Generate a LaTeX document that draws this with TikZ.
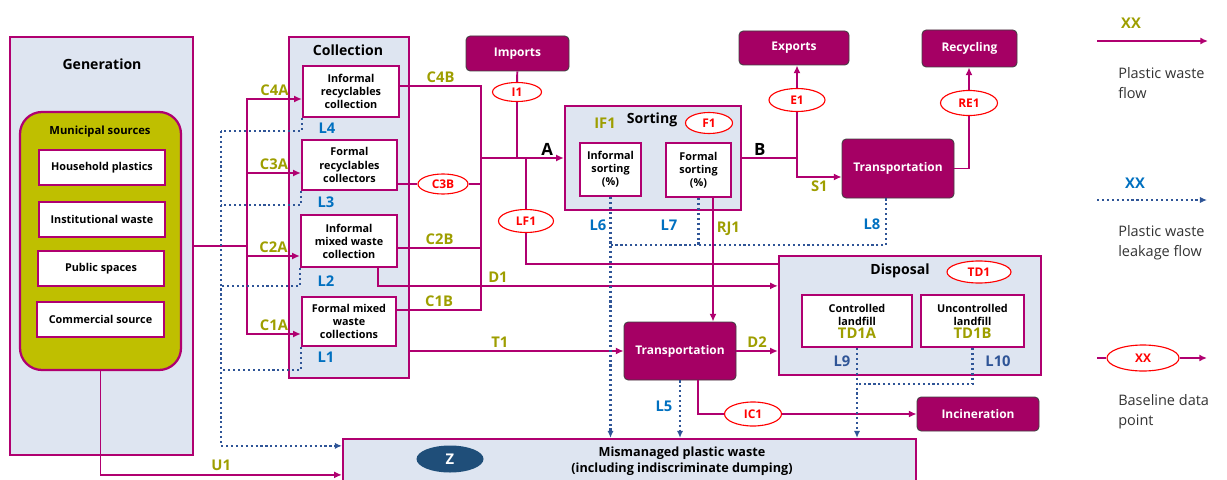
\documentclass[tikz,border=0pt]{standalone}
\usepackage{fontspec}
\setmainfont{Open Sans}
\usetikzlibrary{positioning,shapes,arrows.meta}
\definecolor{wastemag}{RGB}{176,0,112}
\definecolor{sinkfill}{RGB}{165,0,100}
\definecolor{paleblue}{RGB}{222,229,241}
\definecolor{olivefill}{RGB}{191,191,0}
\definecolor{olivetext}{RGB}{158,158,0}
\definecolor{leakblue}{RGB}{47,85,151}
\definecolor{lablblue}{RGB}{0,112,192}
\definecolor{navyz}{RGB}{31,78,121}
\def\px{0.025cm}
\newcommand{\boxfont}{\fontsize{7.7}{9.3}\selectfont\bfseries}
\newcommand{\labfont}{\fontsize{10.5}{12}\selectfont\bfseries}
\newcommand{\sinkfont}{\fontsize{8.5}{10}\selectfont\bfseries}
\newcommand{\ptfont}{\fontsize{8.5}{10}\selectfont\bfseries}
\tikzstyle{stage}=[draw=wastemag,fill=paleblue,line width=1.6pt]
\tikzstyle{item}=[draw=wastemag,fill=white,line width=1.6pt,align=center,font=\boxfont,inner sep=1pt]
\tikzstyle{sink}=[draw=black!75,fill=sinkfill,rounded corners=3pt,text=white,font=\sinkfont,line width=0.6pt]
\tikzstyle{datapt}=[draw=red,fill=white,ellipse,text=red,font=\ptfont,inner sep=0pt,line width=0.8pt]
\tikzstyle{title}=[font=\fontsize{10}{12}\selectfont\bfseries,inner sep=1pt]
\tikzstyle{flowlab}=[text=olivetext,font=\labfont,inner sep=2pt]
\tikzstyle{leaklab}=[text=lablblue,font=\labfont,inner sep=1pt]
\tikzstyle{legtext}=[font=\fontsize{10.3}{14.5}\selectfont,text=black!80,align=left,anchor=west,inner sep=0pt]
\tikzstyle{flowline}=[draw=wastemag,line width=1.4pt]
\tikzstyle{flow}=[flowline,-{Latex[length=5.5pt,width=5pt]}]
\tikzstyle{leakline}=[draw=leakblue,line width=1.5pt,dotted]
\tikzstyle{leak}=[leakline,-{Latex[length=5pt,width=4.5pt]}]
\tikzset{wh/.style 2 args={minimum width=#1*\px,minimum height=#2*\px}}

\begin{document}
\begin{tikzpicture}[x=0.025cm,y=-0.025cm]
  \useasboundingbox (0,0) rectangle (1227,479);
  \clip (0,0) rectangle (1227,479);

  % generation
  \node[stage,wh={183}{418}] (gen) at (101.5,246) {};
  \node[title] (genT) at (102,64) {Generation};
  \node[draw=wastemag,fill=olivefill,line width=1.6pt,rounded corners=0.55cm,wh={161}{258}] (muni) at (100.5,241) {};
  \node[font=\fontsize{8}{9}\selectfont\bfseries] (muniT) at (100,132) {Municipal sources};
  \node[item,wh={126}{35}] (hh) at (102,167.5) {Household plastics};
  \node[item,wh={126}{35}] (inst) at (102,219.5) {Institutional waste};
  \node[item,wh={126}{35}] (pub) at (101,268.5) {Public spaces};
  \node[item,wh={127}{35}] (com) at (100.5,319.5) {Commercial source};

  % collection
  \node[stage,wh={120}{341}] (coll) at (349,207.5) {};
  \node[title] (collT) at (348,50) {Collection};
  \node[item,wh={96}{51}] (irc) at (351,91.5) {Informal\\recyclables\\collection};
  \node[item,wh={95}{50}] (frc) at (349.5,165) {Formal\\recyclables\\collectors};
  \node[item,wh={96}{52}] (imw) at (349,241) {Informal\\mixed waste\\collection};
  \node[item,wh={94}{49}] (fmw) at (349,321.5) {Formal mixed\\waste\\collections};

  % sorting
  \node[stage,wh={176}{104}] (sort) at (653,158) {};
  \node[title] (sortT) at (652,120) {Sorting};
  \node[flowlab] (labIF1) at (605,123) {IF1};
  \node[datapt,wh={47}{21}] (f1) at (709,123) {F1};
  \node[item,wh={61}{53}] (isort) at (610.5,169.5) {Informal\\sorting\\(\%)};
  \node[item,wh={65}{54}] (fsort) at (698.5,170) {Formal\\sorting\\(\%)};

  % disposal
  \node[stage,wh={262}{119}] (disp) at (910,315.5) {};
  \node[title] (dispT) at (900,271) {Disposal};
  \node[datapt,wh={64}{22}] (td1) at (979,272) {TD1};
  \node[item,wh={110}{52}] (ctl) at (857,321) {Controlled\\landfill\\{\labfont\color{olivetext}TD1A}};
  \node[item,wh={103}{52}] (unctl) at (972.5,321) {Uncontrolled\\landfill\\{\labfont\color{olivetext}TD1B}};

  % end points
  \node[sink,wh={103}{35}] (imp) at (517.5,53.5) {Imports};
  \node[sink,wh={110}{34}] (exp) at (794,48) {Exports};
  \node[sink,wh={95}{37}] (recy) at (969.5,48.5) {Recycling};
  \node[sink,wh={112}{59}] (trA) at (898,168.5) {Transportation};
  \node[sink,wh={112}{58}] (trB) at (680,351) {Transportation};
  \node[sink,wh={122}{34}] (inc) at (978,414) {Incineration};
  \node[stage,wh={573}{50}] (mism) at (629.5,464) {};
  \node[font=\fontsize{9}{11}\selectfont\bfseries,align=center] (mismT) at (682,461) {Mismanaged plastic waste\\(including indiscriminate dumping)};
  \node[ellipse,fill=navyz,text=white,font=\labfont,inner sep=0pt,wh={67}{27}] (zz) at (450,459) {Z};

  % data points
  \node[datapt,wh={49}{19}] (i1) at (517,92) {I1};
  \node[datapt,wh={50}{20}] (c3b) at (443,184) {C3B};
  \node[datapt,wh={55}{23}] (lf1) at (526,221) {LF1};
  \node[datapt,wh={56}{23}] (e1) at (797,100) {E1};
  \node[datapt,wh={57}{25}] (re1) at (969,103) {RE1};
  \node[datapt,wh={57}{24}] (ic1) at (753,414) {IC1};

  % flows into collection
  \coordinate (jC) at (247,246);
  \draw[flowline] (gen.east) -- (jC);
  \draw[flow] (jC) |- node[flowlab,above,pos=0.75] (labC4A) {C4A} ([yshift=-7.5*\px]irc.west);
  \draw[flow] (jC) |- node[flowlab,above,pos=0.75] (labC3A) {C3A} ([yshift=-8*\px]frc.west);
  \draw[flow] (jC) |- node[flowlab,above,pos=0.75] (labC2A) {C2A} ([yshift=-15*\px]imw.west);
  \draw[flow] (jC) |- node[flowlab,above,pos=0.75] (labC1A) {C1A} ([yshift=-12.5*\px]fmw.west);

  % flows out of collection
  \coordinate (jA) at (481,158);
  \draw[flowline] ([yshift=5.5*\px]irc.east) -| node[flowlab,above,pos=0.25] (labC4B) {C4B} (jA);
  \draw[flowline] ([yshift=-19*\px]frc.east) -- (c3b);
  \draw[flowline] (c3b) -| (jA);
  \draw[flowline] ([yshift=-7*\px]imw.east) -| node[flowlab,above,pos=0.25] (labC2B) {C2B} (jA);
  \draw[flowline] ([yshift=11.5*\px]fmw.east) -| node[flowlab,above,pos=0.25] (labC1B) {C1B} (jA);
  \draw[flow] (jA) -- node[title,font=\fontsize{12}{13}\selectfont\bfseries,above,pos=0.8] (labA) {A} (sort.west);
  \draw[flowline] (imp) -- (i1);
  \draw[flowline] (i1) -- (i1 |- jA);
  \coordinate (jL) at (526,158);
  \draw[flowline] (jL) -- (lf1);
  \draw[flowline] (lf1) |- ([yshift=-9*\px]disp.north west);
  \draw[flow] ([xshift=29*\px]imw.south) |- node[flowlab,above,pos=0.65] (labD1) {D1} ([yshift=-31*\px]disp.north west);
  \draw[flow] (coll.east |- trB.west) -- node[flowlab,above,pos=0.42] (labT1) {T1} (trB.west);
  \draw[flow] (trB.east) -- node[flowlab,above] (labD2) {D2} (trB.east -| disp.west);
  \draw[flow] ([xshift=14.5*\px]fsort.south) -- node[flowlab,right,pos=0.25] (labRJ1) {RJ1} ([xshift=14.5*\px]fsort.south |- trB.north);

  % flows out of sorting
  \coordinate (jB) at (797,158);
  \draw[flowline] (sort.east) -- node[title,font=\fontsize{12}{13}\selectfont\bfseries,above,pos=0.32] (labB) {B} (jB);
  \draw[flowline] (jB) -- (e1);
  \draw[flow] (e1) -- (e1 |- exp.south);
  \draw[flow] (jB) |- node[flowlab,below,pos=0.75] (labS1) {S1} ([yshift=-8.5*\px]trA.west);
  \draw[flowline] (trA.east) -| (re1);
  \draw[flow] (re1) -- (re1 |- recy.south);
  \draw[flowline] ([xshift=18*\px]trB.south) |- (ic1);
  \draw[flow] (ic1) -- (inc.west);
  \draw[flow] (muni.south) |- node[flowlab,above,pos=0.75] (labU1) {U1} ([yshift=-37*\px]mism.north west);

  % leakage
  \coordinate (lk4) at (221,131);
  \coordinate (lk3) at (221,205);
  \coordinate (lk2) at (221,286);
  \coordinate (lk1) at (221,370);
  \draw[leakline] (irc.south west) |- (lk4);
  \draw[leakline] (frc.south west) |- (lk3);
  \draw[leakline] (imw.south west) |- (lk2);
  \draw[leakline] (fmw.south west) |- (lk1);
  \draw[leak] (lk4) |- ([yshift=-8*\px]mism.north west);
  \node[leaklab] (labL4) at (327,128) {L4};
  \node[leaklab] (labL3) at (326,202) {L3};
  \node[leaklab] (labL2) at (326,281) {L2};
  \node[leaklab] (labL1) at (326,357) {L1};
  \coordinate (lkS) at (610.5,245);
  \draw[leak] (isort.south) -- (isort.south |- mism.north);
  \draw[leakline] (fsort.south) |- (lkS);
  \draw[leakline] ([xshift=-12*\px]trA.south) |- (lkS);
  \node[leaklab] (labL6) at (598,225) {L6};
  \node[leaklab] (labL7) at (669,225) {L7};
  \node[leaklab] (labL8) at (872,224) {L8};
  \draw[leak] (trB.south) -- (trB.south |- mism.north);
  \node[leaklab] (labL5) at (664,406) {L5};
  \coordinate (lkD) at (857,384);
  \draw[leak] (ctl.south) -- (ctl.south |- mism.north);
  \draw[leakline] (unctl.south) |- (lkD);
  \node[leaklab,text=leakblue] (labL9) at (842,361) {L9};
  \node[leaklab,text=leakblue] (labL10) at (998,361) {L10};

  % legend
  \coordinate (lgA1) at (1097,41);
  \coordinate (lgB1) at (1208,41);
  \draw[flow] (lgA1) -- (lgB1);
  \node[flowlab] (lgXX1) at (1131,23) {XX};
  \node[legtext] (lgT1) at (1118,83) {Plastic waste\\flow};
  \coordinate (lgA2) at (1097,200);
  \coordinate (lgB2) at (1207,200);
  \draw[leak] (lgA2) -- (lgB2);
  \node[leaklab] (lgXX2) at (1135,183) {XX};
  \node[legtext] (lgT2) at (1118,243) {Plastic waste\\leakage flow};
  \coordinate (lgA3) at (1097,358);
  \coordinate (lgB3) at (1207,358);
  \node[datapt,wh={72}{26}] (lgpt) at (1143,358) {XX};
  \draw[flowline] (lgA3) -- (lgpt);
  \draw[flow] (lgpt) -- (lgB3);
  \node[legtext] (lgT3) at (1118,412) {Baseline data\\point};
\end{tikzpicture}
\end{document}
